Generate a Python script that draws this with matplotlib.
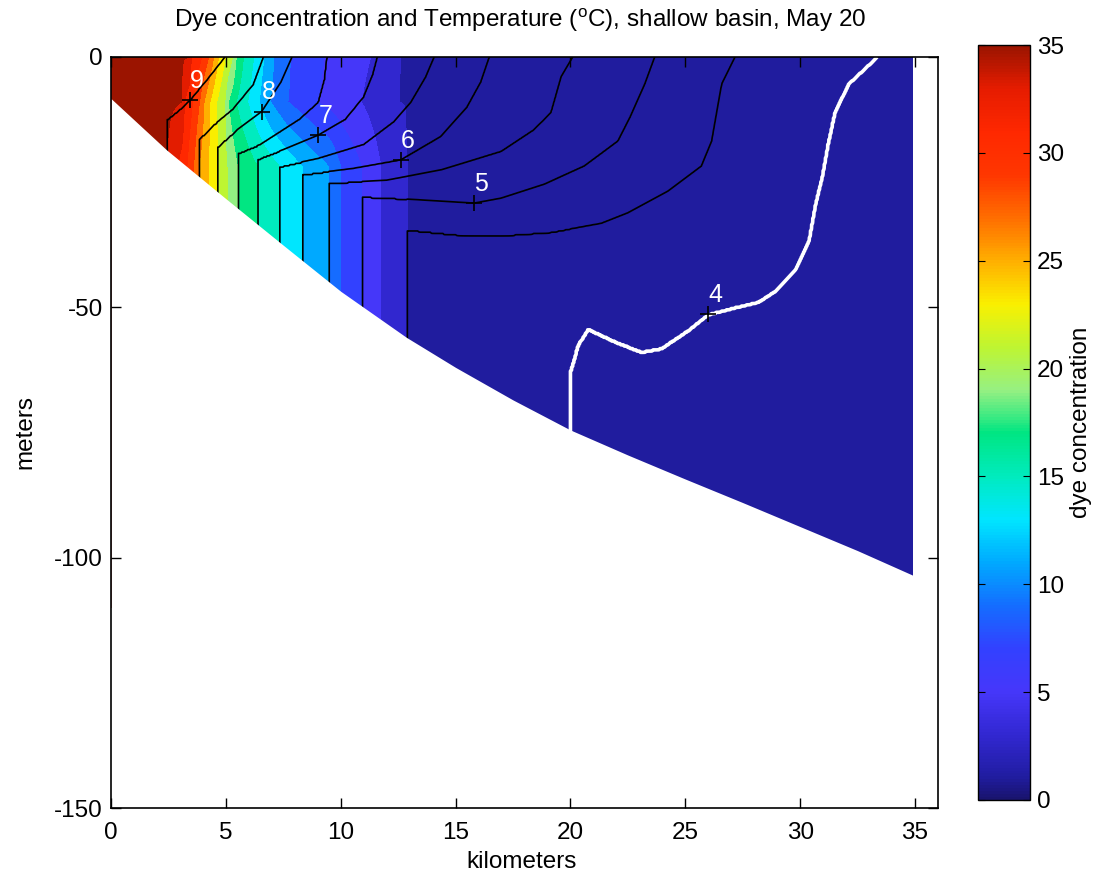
import numpy as np
import matplotlib
matplotlib.use("Agg")
import matplotlib.pyplot as plt
from matplotlib.colors import LinearSegmentedColormap, Normalize
from matplotlib.cm import ScalarMappable

plt.rcParams['font.family'] = ['Liberation Sans', 'DejaVu Sans']
plt.rcParams['mathtext.fontset'] = 'custom'
plt.rcParams['mathtext.rm'] = 'Liberation Sans'
plt.rcParams['axes.unicode_minus'] = False

# --- bottom profile (km, m) ---
bottom_km = [0, 2.43, 5, 7.5, 10, 12.86, 15, 17.5, 20, 22.5, 25, 27.5, 30, 32.5, 34.9]
bottom_m = [-8.3, -18.6, -28.3, -37.6, -46.8, -56.0, -62.0, -68.5, -74.5, -79.5,
            -84.3, -89.0, -93.8, -98.6, -103.5]

# --- isotherms: path from the knee (start of the vertical part) up to the surface ---
t90_km = [2.42, 3.0, 3.44, 4.2, 4.97]
t90_m = [-12.6, -10.5, -8.6, -4.5, 0]
t85_km = [3.81, 4.5, 5.3, 6.2, 6.64]
t85_m = [-16.6, -13.5, -10.5, -5.5, 0]
t80_km = [4.64, 5.5, 6.56, 7.4, 7.88]
t80_m = [-18.0, -14.5, -10.9, -5.0, 0]
t75_km = [5.51, 6.5, 8.2, 9.03, 9.3, 9.41]
t75_m = [-19.3, -17.5, -12.5, -9.1, -4.5, 0]
t70_km = [6.36, 7.5, 9.03, 10.2, 11.0, 11.4, 11.6]
t70_m = [-20.5, -18.5, -15.6, -12.5, -8.0, -3.5, 0]
t65_km = [7.35, 9.0, 11.0, 12.3, 13.05, 13.7, 14.07]
t65_m = [-21.9, -20.3, -17.5, -13.0, -9.1, -4.0, 0]
t60_km = [8.34, 10.5, 12.61, 14.36, 15.5, 16.1, 16.47]
t60_m = [-23.5, -22.3, -20.6, -15.9, -10.0, -5.0, 0]
t55_km = [9.49, 12.0, 14.4, 16.98, 18.4, 19.16, 19.6, 20.1]
t55_m = [-25.2, -24.6, -22.5, -18.9, -14.6, -11.1, -3.9, 0]
t50_km = [10.92, 13.0, 15.81, 16.98, 18.87, 20.6, 22.07, 22.6, 23.24, 23.67]
t50_m = [-27.9, -28.4, -29.2, -28.2, -25.4, -21.8, -16.8, -12.0, -5.4, 0]
t45_km = [12.86, 15.0, 16.98, 19.16, 21.34, 22.5, 24.24, 25.7, 26.15, 26.58, 27.16]
t45_m = [-34.5, -35.5, -35.7, -35.0, -33.2, -31.1, -26.8, -21.8, -16.8, -5.4, 0]
t40_km = [19.96, 20.33, 20.77, 21.93, 23.09, 23.96, 25.13, 26.0, 27.2, 28.2, 28.9,
          29.78, 30.37, 30.65, 30.95, 31.2, 31.5, 32.1, 33.35]
t40_m = [-63.2, -57.5, -54.3, -56.8, -58.9, -58.2, -54.6, -51.4, -50.0, -48.9, -46.8,
         -42.5, -36.8, -29.6, -23.9, -17.5, -11.1, -5.4, 0]

temp_levels = [9.0, 8.5, 8.0, 7.5, 7.0, 6.5, 6.0, 5.5, 5.0, 4.5, 4.0]
temp_shore, temp_offshore = 9.5, 3.85

# labelled isotherms: level and x position of the '+' marker
label_levels = [9.0, 8.0, 7.0, 6.0, 5.0, 4.0]
label_km = [3.44, 6.56, 9.03, 12.61, 15.81, 26.0]

# --- dye concentration: x position of each band edge at three depths ---
dye_levels = [34, 32, 30, 28, 26, 24, 22, 20, 18, 16, 14, 12, 10, 8, 6, 4, 2]
dye_edge_0m = [3.40, 3.50, 3.96, 4.25, 4.47, 4.68, 4.98, 5.30, 5.45, 5.77, 6.21,
               6.65, 7.08, 7.81, 9.27, 11.3, 12.6]
dye_edge_9m = [3.08, 3.20, 3.55, 3.85, 4.05, 4.30, 4.60, 4.95, 5.10, 5.45, 5.95,
               6.45, 6.95, 7.70, 9.00, 10.9, 12.5]
dye_edge_deep = [2.42, 2.90, 3.30, 3.59, 3.81, 4.25, 4.64, 5.05, 5.51, 6.39, 7.35,
                 8.32, 9.49, 10.0, 10.9, 11.75, 12.86]
dye_rows_m = [0, -9, -22, -110]
dye_shore, dye_offshore = 35.5, 1.0

# colour map resembling the reference colorbar
cmap_vals = [0, 1, 3, 5, 7, 9, 11, 13, 15, 17, 19, 21, 23, 25, 27, 29, 31, 33, 35]
cmap_rgb = [(25, 20, 110), (32, 28, 160), (50, 40, 210), (70, 55, 250), (50, 65, 255),
            (20, 110, 255), (0, 170, 255), (0, 230, 255), (0, 235, 190), (0, 230, 130),
            (150, 240, 130), (190, 245, 50), (250, 240, 0), (255, 175, 0), (255, 110, 0),
            (255, 55, 0), (255, 40, 0), (230, 28, 0), (155, 20, 0)]
cmap = LinearSegmentedColormap.from_list(
    "dye", [(v / 35, tuple(c / 255 for c in rgb)) for v, rgb in zip(cmap_vals, cmap_rgb)])
norm = Normalize(0, 35)

paths = [(t90_km, t90_m), (t85_km, t85_m), (t80_km, t80_m), (t75_km, t75_m),
         (t70_km, t70_m), (t65_km, t65_m), (t60_km, t60_m), (t55_km, t55_m),
         (t50_km, t50_m), (t45_km, t45_m), (t40_km, t40_m)]

# --- temperature field, built column by column from the isotherm crossings ---
grid_km = np.arange(0, 34.901, 0.05)
grid_m = np.arange(0, -110.01, -0.25)
knee_km = [p[0][0] for p in paths]
surf_km = [p[0][-1] for p in paths]
temp = np.empty((len(grid_m), len(grid_km)))
for j, x in enumerate(grid_km):
    t_surf = np.interp(x, [0] + surf_km + [36], [temp_shore] + temp_levels + [temp_offshore])
    t_deep = np.interp(x, [0] + knee_km + [36], [temp_shore] + temp_levels + [temp_offshore])
    depth = [0.0]
    val = [t_surf]
    for lev, (pk, pm) in zip(temp_levels, paths):
        if pk[0] < x < pk[-1]:
            depth.append(-np.interp(x, pk, pm))
            val.append(lev)
    depth.append(200.0)
    val.append(t_deep)
    order = np.argsort(depth)
    temp[:, j] = np.interp(-grid_m, np.array(depth)[order], np.array(val)[order])

# --- dye field on the few measured rows ---
dye_edges = [dye_edge_0m, dye_edge_9m, dye_edge_deep, dye_edge_deep]
dye = np.array([np.interp(grid_km, [0] + e + [35], [dye_shore] + dye_levels + [dye_offshore])
                for e in dye_edges])

fig = plt.figure(figsize=(10.99, 8.82), dpi=100)
ax = fig.add_axes([0.101, 0.0839, 0.7525, 0.8515])

ax.contourf(grid_km, dye_rows_m, dye, levels=np.arange(0, 38, 2), cmap=cmap, norm=norm,
            zorder=1)
ax.contour(grid_km, grid_m, temp, levels=np.arange(4.5, 9.01, 0.5), colors='black',
           linewidths=1.2, zorder=1.5)
ax.contour(grid_km, grid_m, temp, levels=[4.0], colors='white', linewidths=2.6, zorder=1.6)

# white sea floor
ax.fill_between(bottom_km, bottom_m, -150, color='white', lw=0, zorder=2)

for lev, lk in zip(label_levels, label_km):
    pk, pm = paths[temp_levels.index(lev)]
    lz = np.interp(lk, pk, pm)
    ax.plot(lk, lz, '+', color='black', ms=11, mew=1.2, zorder=4)
    ax.annotate(f"{lev:g}", (lk, lz), xytext=(5, 14), textcoords='offset points',
                color='white', fontsize=18, ha='center', va='center', zorder=4)

fs = 17.5
ax.set_xlim(0, 36)
ax.set_ylim(-150, 0)
ax.set_xticks(range(0, 36, 5))
ax.set_yticks([-150, -100, -50, 0])
ax.set_axisbelow(False)
ax.tick_params(direction='in', top=True, right=True, length=7, width=1, labelsize=fs)
ax.tick_params(axis='x', pad=10)
ax.tick_params(axis='y', pad=6)
for s in ax.spines.values():
    s.set_linewidth(1.2)

fig.text(520 / 1099, 1 - 20 / 882,
         'Dye concentration and Temperature ($^{\\rm o}$C), shallow basin, May 20',
         ha='center', va='center', fontsize=fs)
fig.text(522 / 1099, 1 - 862 / 882, 'kilometers', ha='center', va='center', fontsize=fs)
fig.text(25 / 1099, 1 - 432 / 882, 'meters', ha='center', va='center', fontsize=fs,
         rotation=90)

cax = fig.add_axes([978 / 1099, 1 - 800 / 882, 52 / 1099, 755 / 882])
cb = fig.colorbar(ScalarMappable(norm=norm, cmap=cmap), cax=cax, ticks=range(0, 36, 5))
cb.ax.tick_params(direction='in', left=True, right=True, length=5, labelsize=fs, pad=5)
cb.outline.set_linewidth(1.0)
cb.set_label('dye concentration', fontsize=fs, labelpad=4)

fig.savefig("out.png", dpi=100)
